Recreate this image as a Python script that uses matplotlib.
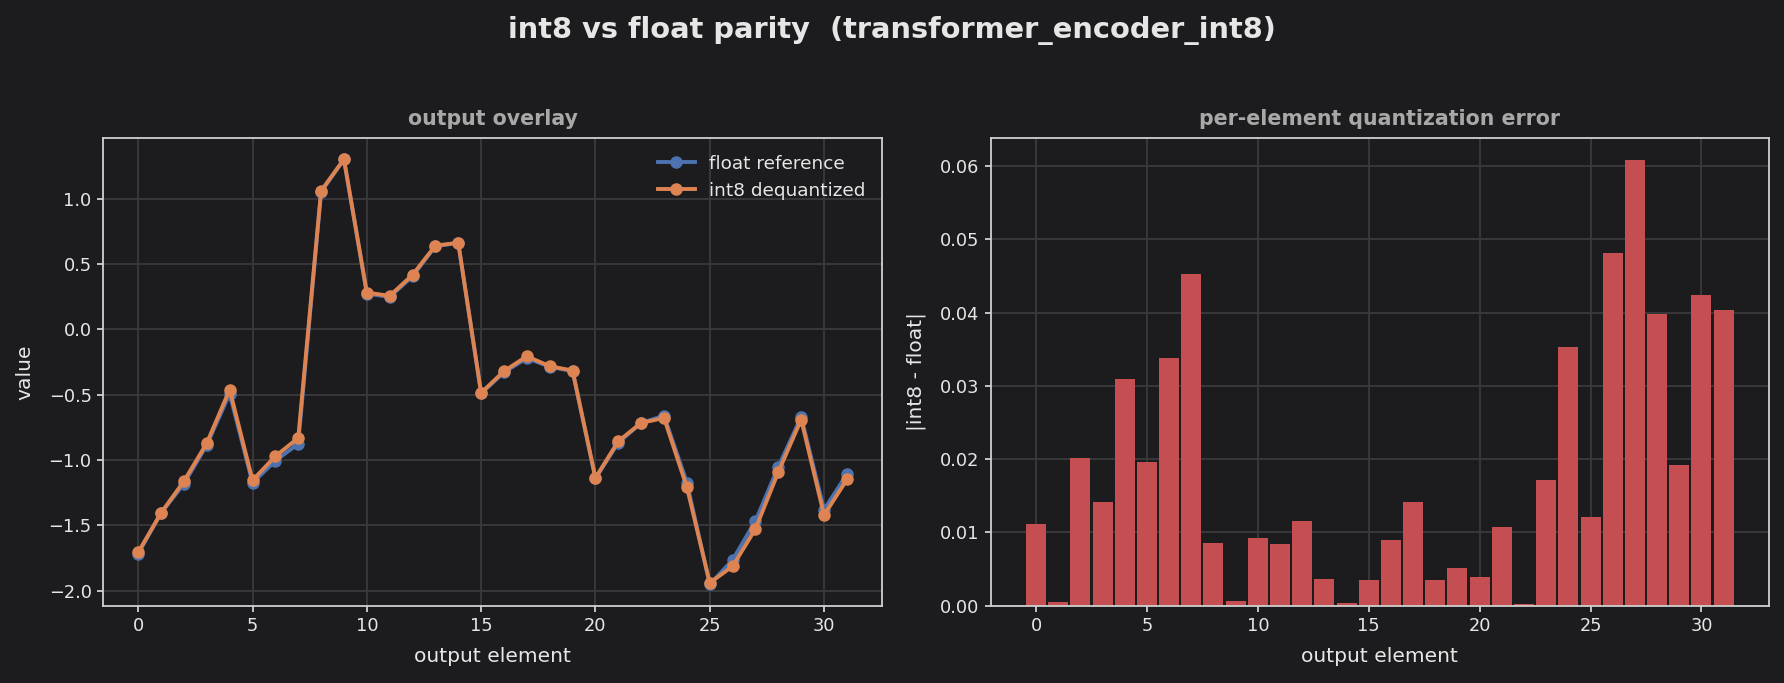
import numpy as np
import matplotlib
matplotlib.use("Agg")
import matplotlib.pyplot as plt

# values
elements = np.arange(32)
float_ref = [-1.718, -1.406, -1.183, -0.886, -0.493, -1.176, -1.006, -0.877,
             1.050, 1.301, 0.272, 0.247, 0.405, 0.636, 0.661, -0.491,
             -0.330, -0.221, -0.287, -0.321, -1.142, -0.868, -0.717, -0.662,
             -1.174, -1.953, -1.766, -1.467, -1.052, -0.672, -1.381, -1.110]
int8_deq = [-1.707, -1.406, -1.163, -0.872, -0.462, -1.156, -0.972, -0.832,
            1.059, 1.301, 0.281, 0.255, 0.416, 0.640, 0.661, -0.487,
            -0.321, -0.207, -0.283, -0.316, -1.138, -0.857, -0.717, -0.679,
            -1.209, -1.941, -1.814, -1.528, -1.092, -0.691, -1.423, -1.150]
abs_err = [0.0112, 0.0005, 0.0202, 0.0141, 0.0310, 0.0196, 0.0338, 0.0453,
           0.0086, 0.0006, 0.0092, 0.0084, 0.0115, 0.0037, 0.0004, 0.0035,
           0.0089, 0.0141, 0.0035, 0.0051, 0.0039, 0.0107, 0.0002, 0.0171,
           0.0353, 0.0121, 0.0481, 0.0608, 0.0398, 0.0192, 0.0424, 0.0403]

bg = "#1c1c1e"
fg = "#e6e6e6"
grid_c = "#3a3a3c"
spine_c = "#d0d0d0"

plt.rcParams["font.family"] = ["DejaVu Sans"]

fig = plt.figure(figsize=(17.84, 6.83), dpi=100, facecolor=bg)
ax1 = fig.add_axes([0.0576, 0.1132, 0.437, 0.6848])
ax2 = fig.add_axes([0.5553, 0.1132, 0.4363, 0.6848])

for ax in (ax1, ax2):
    ax.set_facecolor(bg)
    ax.grid(True, color=grid_c, linewidth=1.3)
    ax.set_axisbelow(True)
    for s in ax.spines.values():
        s.set_color(spine_c)
        s.set_linewidth(1.3)
    ax.tick_params(colors=spine_c, labelcolor=fg, labelsize=12.8, length=4.5, width=1.3)

# left: overlay
ax1.plot(elements, float_ref, color="#4c72b0", marker="o", lw=2.8, ms=8, label="float reference")
ax1.plot(elements, int8_deq, color="#dd8452", marker="o", lw=2.8, ms=8, label="int8 dequantized")
ax1.set_title("output overlay", color="#a8a8a8", fontsize=14.8, fontweight="bold", pad=9)
ax1.set_xlabel("output element", color=fg, fontsize=14.6, labelpad=9)
ax1.set_ylabel("value", color=fg, fontsize=14.6, labelpad=10)
leg = ax1.legend(loc="upper right", frameon=False, fontsize=13.3)
for t in leg.get_texts():
    t.set_color(fg)

# right: error bars
ax2.bar(elements, abs_err, color="#c44e52", width=0.9)
ax2.set_title("per-element quantization error", color="#a8a8a8", fontsize=14.8, fontweight="bold", pad=9)
ax2.set_xlabel("output element", color=fg, fontsize=14.6, labelpad=9)
ax2.set_ylabel("|int8 - float|", color=fg, fontsize=14.6, labelpad=10)

fig.suptitle("int8 vs float parity  (transformer_encoder_int8)", color=fg,
             fontsize=20.8, fontweight="bold", y=0.977)

fig.savefig("out.png", dpi=100, facecolor=bg)
